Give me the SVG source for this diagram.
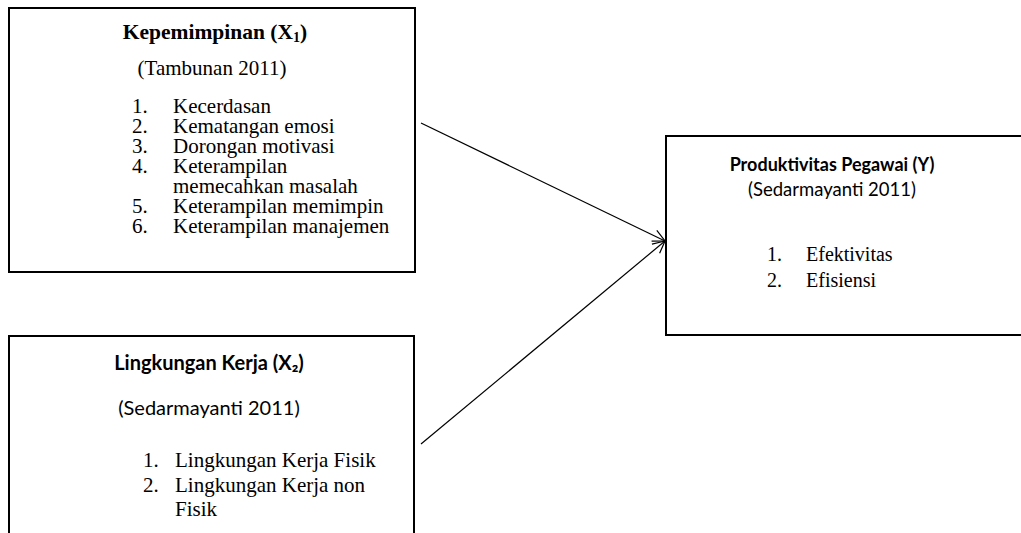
<svg xmlns="http://www.w3.org/2000/svg" width="1021" height="533" viewBox="0 0 1021 533">
<defs>
<style>
.box{fill:#fff;stroke:#000;stroke-width:2}
.tnr{font-family:"Liberation Serif","Times New Roman",serif;font-size:21px;fill:#000}
.tb{font-family:"Liberation Serif","Times New Roman",serif;font-size:21.5px;font-weight:bold;fill:#000}
.cal{font-family:Lato,"Open Sans",sans-serif;font-size:20px;fill:#000}
.calb{font-family:Lato,"Open Sans",sans-serif;font-size:20px;font-weight:bold;fill:#000}
.s18{font-size:18.5px}
.s17{font-size:18px}
.s20{font-size:20px}
.conn{stroke:#000;stroke-width:1.2;fill:none}
</style>
<marker id="arr" viewBox="0 0 14 14" refX="13" refY="7" markerWidth="14" markerHeight="14" markerUnits="userSpaceOnUse" orient="auto">
<path d="M1,1 L13,7 L1,13" fill="none" stroke="#000" stroke-width="1.2"/>
</marker>
</defs>
<rect width="1021" height="533" fill="#fff"/>
<g id="node-x1">
<rect class="box" x="9" y="8" width="406" height="264"/>
<text class="tb" x="215" y="39" text-anchor="middle">Kepemimpinan (X<tspan font-size="14" dy="3">1</tspan><tspan dy="-3">)</tspan></text>
<text class="tnr" x="212" y="75" text-anchor="middle">(Tambunan 2011)</text>
<g class="tnr">
<text x="132" y="113">1.</text><text x="173" y="113">Kecerdasan</text>
<text x="132" y="133">2.</text><text x="173" y="133">Kematangan emosi</text>
<text x="132" y="153">3.</text><text x="173" y="153">Dorongan motivasi</text>
<text x="132" y="173">4.</text><text x="173" y="173">Keterampilan</text>
<text x="173" y="193">memecahkan masalah</text>
<text x="132" y="213">5.</text><text x="173" y="213">Keterampilan memimpin</text>
<text x="132" y="233">6.</text><text x="173" y="233">Keterampilan manajemen</text>
</g>
</g>
<g id="node-x2">
<path class="box" d="M9,540 L9,336 L414,336 L414,540"/>
<text class="calb" x="209" y="370" text-anchor="middle">Lingkungan Kerja (X₂)</text>
<text class="cal" x="209" y="415" text-anchor="middle">(Sedarmayanti 2011)</text>
<g class="tnr">
<text x="143" y="467">1.</text><text x="175" y="467">Lingkungan Kerja Fisik</text>
<text x="143" y="492">2.</text><text x="175" y="492">Lingkungan Kerja non</text>
<text x="175" y="516">Fisik</text>
</g>
</g>
<g id="node-y">
<path class="box" d="M1025,136 L666,136 L666,335 L1025,335"/>
<text class="calb s17" x="832" y="171" text-anchor="middle">Produktivitas Pegawai (Y)</text>
<text class="cal s18" x="832" y="196" text-anchor="middle">(Sedarmayanti 2011)</text>
<g class="tnr s20">
<text x="767" y="261">1.</text><text x="806" y="261">Efektivitas</text>
<text x="767" y="287">2.</text><text x="806" y="287">Efisiensi</text>
</g>
</g>
<g id="connectors">
<line class="conn" x1="421" y1="123" x2="665" y2="241" marker-end="url(#arr)"/>
<line class="conn" x1="421" y1="444" x2="665" y2="241" marker-end="url(#arr)"/>
</g>
</svg>
